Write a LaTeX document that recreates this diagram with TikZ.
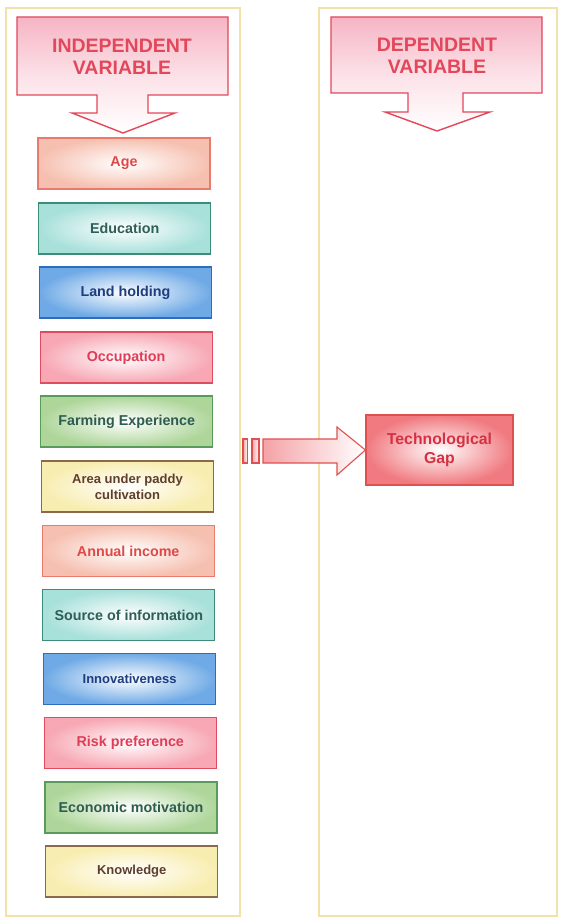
\documentclass[tikz,border=0pt]{standalone}
\usepackage{fontspec}
\setmainfont{Liberation Sans}
\usetikzlibrary{calc}
\definecolor{panelc}{HTML}{F2E2A8}
\definecolor{hdrc}{HTML}{E2475A}
\definecolor{hdrfill}{HTML}{F6B4C4}
\definecolor{peachD}{HTML}{E87A6E}\definecolor{peachF}{HTML}{F6C0B0}\definecolor{peachT}{HTML}{E04848}
\definecolor{tealD}{HTML}{3C8C78}\definecolor{tealF}{HTML}{A8E0DA}\definecolor{tealT}{HTML}{2E5E58}
\definecolor{blueD}{HTML}{2E6CC0}\definecolor{blueF}{HTML}{6FAAE6}\definecolor{blueT}{HTML}{1E3C80}
\definecolor{pinkD}{HTML}{E04C60}\definecolor{pinkF}{HTML}{F7A8B4}\definecolor{pinkT}{HTML}{E03C58}
\definecolor{greenD}{HTML}{5A9A5A}\definecolor{greenF}{HTML}{AED69A}\definecolor{greenT}{HTML}{2E5C50}
\definecolor{yelD}{HTML}{8A6A4A}\definecolor{yelF}{HTML}{F8EDB0}\definecolor{yelT}{HTML}{5E3E2E}
\definecolor{gapD}{HTML}{E05050}\definecolor{gapF}{HTML}{F07A80}\definecolor{gapT}{HTML}{D83040}
\tikzset{
  panel/.style={draw=panelc, line width=1.3pt, fill=white},
  hdrshape/.style={draw=hdrc, line width=1.4pt, top color=hdrfill, bottom color=white, middle color=white!60!hdrfill},
  hdrtext/.style={text=hdrc, font=\bfseries\fontsize{19.5}{22}\selectfont, align=center, inner sep=0pt},
  vbox/.style={line width=1.1pt, minimum width=172pt, minimum height=51pt, inner sep=0pt, align=center, font=\bfseries\fontsize{14.3}{16}\selectfont},
  small/.style={font=\bfseries\fontsize{13}{16}\selectfont},
  peach/.style={draw=peachD, inner color=white, outer color=peachF, text=peachT},
  teal/.style={draw=tealD, inner color=white, outer color=tealF, text=tealT},
  blue/.style={draw=blueD, inner color=white, outer color=blueF, text=blueT},
  pink/.style={draw=pinkD, inner color=white, outer color=pinkF, text=pinkT},
  green/.style={draw=greenD, inner color=white, outer color=greenF, text=greenT},
  yel/.style={draw=yelD, inner color=white, outer color=yelF, text=yelT},
  gapbox/.style={draw=gapD, line width=1.2pt, inner color=white, outer color=gapF, text=gapT, minimum width=147pt, minimum height=70pt, align=center, font=\bfseries\fontsize{15.8}{19}\selectfont},
  bigarrow/.style={draw=gapD, line width=1.1pt, left color=gapF!70, right color=white}
}
\begin{document}
\begin{tikzpicture}[x=1pt,y=-1pt]
\useasboundingbox (0,0) rectangle (563,920);
\fill[white] (0,0) rectangle (563,920);
% panels
\draw[panel] (6,8) rectangle (240,916);
\draw[panel] (319,8) rectangle (557,916);
% header callouts
\draw[hdrshape] (17,17) -- (228,17) -- (228,95) -- (148,95) -- (148,113) -- (175,113) -- (123,133) -- (72,113) -- (97,113) -- (97,95) -- (17,95) -- cycle;
\node[hdrtext] (indep) at (122,57) {INDEPENDENT\\VARIABLE};
\draw[hdrshape] (331,17) -- (542,17) -- (542,93) -- (463,93) -- (463,112) -- (490,112) -- (437,131) -- (385,112) -- (408,112) -- (408,93) -- (331,93) -- cycle;
\node[hdrtext] (dep) at (437,56) {DEPENDENT\\VARIABLE};
% variable boxes
\node[vbox,peach] (age) at (124.0,163.5) {Age};
\node[vbox,teal]  (edu) at (124.7,228.5) {Education};
\node[vbox,blue]  (land) at (125.4,292.5) {Land holding};
\node[vbox,pink]  (occ) at (126.1,357.5) {Occupation};
\node[vbox,green] (farm) at (126.8,421.5) {Farming Experience};
\node[vbox,yel,small] (area) at (127.5,486.5) {Area under paddy\\cultivation};
\node[vbox,peach] (inc) at (128.2,551) {Annual income};
\node[vbox,teal]  (src) at (128.9,615) {Source of information};
\node[vbox,blue,small]  (innov) at (129.6,679) {Innovativeness};
\node[vbox,pink]  (risk) at (130.3,743) {Risk preference};
\node[vbox,green] (econ) at (131.0,807.5) {Economic motivation};
\node[vbox,yel,small] (know) at (131.7,871.5) {Knowledge};
% dependent variable
\node[gapbox] (gap) at (439.5,450) {Technological\\Gap};
% block arrow into the dependent variable
\coordinate (tip) at (gap.west);
\draw[bigarrow] (243,439) rectangle (247.5,463);
\draw[bigarrow] (252,439) rectangle (259,463);
\draw[bigarrow] (263,439) -- (337,439) -- (337,427) -- (tip) -- (337,475) -- (337,463) -- (263,463) -- cycle;
\end{tikzpicture}
\end{document}
